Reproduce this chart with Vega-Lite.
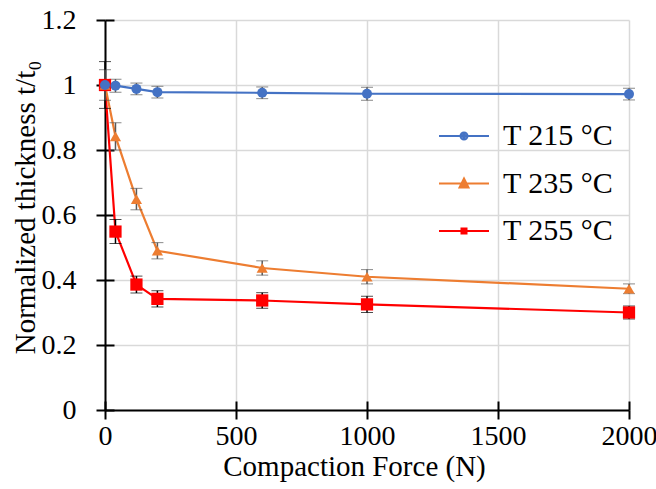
{
  "$schema": "https://vega.github.io/schema/vega-lite/v6.json",
  "width": 524,
  "height": 390,
  "autosize": "none",
  "padding": {"left": 105, "top": 20, "right": 27, "bottom": 79},
  "background": "white",
  "config": {
    "view": {"stroke": null},
    "font": "Liberation Serif",
    "axis": {
      "labelFont": "Liberation Serif",
      "labelFontSize": 28,
      "labelColor": "black",
      "labelFlush": false,
      "titleFont": "Liberation Serif",
      "titleFontSize": 29,
      "titleFontWeight": "normal",
      "titleColor": "black",
      "gridColor": "#d9d9d9",
      "gridWidth": 1.5,
      "domainColor": "black",
      "domainWidth": 2,
      "tickColor": "black",
      "tickWidth": 2,
      "tickSize": 9
    },
    "legend": {
      "labelFont": "Liberation Serif",
      "labelFontSize": 30,
      "labelColor": "black",
      "padding": 0
    }
  },
  "data": {
    "values": [
      {"force": 0, "series": "T 255 °C", "t": 1.0, "lo": 0.928, "hi": 1.072},
      {"force": 40, "series": "T 255 °C", "t": 0.549, "lo": 0.512, "hi": 0.586},
      {"force": 120, "series": "T 255 °C", "t": 0.386, "lo": 0.36, "hi": 0.412},
      {"force": 200, "series": "T 255 °C", "t": 0.342, "lo": 0.317, "hi": 0.367},
      {"force": 600, "series": "T 255 °C", "t": 0.337, "lo": 0.313, "hi": 0.361},
      {"force": 1000, "series": "T 255 °C", "t": 0.325, "lo": 0.3, "hi": 0.35},
      {"force": 2000, "series": "T 255 °C", "t": 0.3, "lo": 0.28, "hi": 0.32},
      {"force": 0, "series": "T 235 °C", "t": 1.0, "lo": 0.953, "hi": 1.047},
      {"force": 40, "series": "T 235 °C", "t": 0.842, "lo": 0.8, "hi": 0.884},
      {"force": 120, "series": "T 235 °C", "t": 0.649, "lo": 0.616, "hi": 0.682},
      {"force": 200, "series": "T 235 °C", "t": 0.49, "lo": 0.465, "hi": 0.515},
      {"force": 600, "series": "T 235 °C", "t": 0.437, "lo": 0.415, "hi": 0.459},
      {"force": 1000, "series": "T 235 °C", "t": 0.41, "lo": 0.388, "hi": 0.432},
      {"force": 2000, "series": "T 235 °C", "t": 0.373, "lo": 0.358, "hi": 0.388},
      {"force": 0, "series": "T 215 °C", "t": 1.0, "lo": 0.99, "hi": 1.01},
      {"force": 40, "series": "T 215 °C", "t": 0.998, "lo": 0.978, "hi": 1.018},
      {"force": 120, "series": "T 215 °C", "t": 0.988, "lo": 0.97, "hi": 1.006},
      {"force": 200, "series": "T 215 °C", "t": 0.978, "lo": 0.96, "hi": 0.996},
      {"force": 600, "series": "T 215 °C", "t": 0.976, "lo": 0.958, "hi": 0.994},
      {"force": 1000, "series": "T 215 °C", "t": 0.973, "lo": 0.953, "hi": 0.993},
      {"force": 2000, "series": "T 215 °C", "t": 0.972, "lo": 0.954, "hi": 0.99}
    ]
  },
  "resolve": {"axis": {"x": "independent", "y": "independent"}, "scale": {"shape": "independent", "color": "independent"}},
  "layer": [
    {
      "layer": [
        {
          "mark": {"type": "line", "strokeWidth": 2.2},
          "encoding": {
            "x": {
              "field": "force", "type": "quantitative",
              "scale": {"domain": [0, 2000], "nice": false},
              "axis": {
                "values": [0, 500, 1000, 1500, 2000],
                "format": "d",
                "title": "Compaction Force (N)",
                "labelPadding": 3,
                "titleX": 249, "titleY": 65, "titleBaseline": "alphabetic", "titleAlign": "center"
              }
            },
            "y": {
              "field": "t", "type": "quantitative",
              "scale": {"domain": [0, 1.2], "nice": false, "zero": true},
              "axis": {
                "values": [0, 0.2, 0.4, 0.6, 0.8, 1, 1.2],
                "format": "~g",
                "title": "Normalized thickness t/t₀",
                "labelPadding": 20,
                "titleX": -71, "titleY": 187, "titleBaseline": "alphabetic", "titleAlign": "center", "titleAngle": 270
              }
            },
            "color": {
              "field": "series", "type": "nominal",
              "scale": {"domain": ["T 215 °C", "T 235 °C", "T 255 °C"], "range": ["#4472C4", "#ED7D31", "#FF0000"]},
              "legend": null
            },
            "detail": {"field": "series"}
          }
        },
        {
          "mark": {"type": "errorbar", "ticks": {"size": 12, "strokeWidth": 1.5}, "rule": {"strokeWidth": 1.5}},
          "encoding": {
            "x": {
              "field": "force", "type": "quantitative",
              "axis": {"orient": "bottom", "values": [0, 500, 1000, 1500, 2000], "tickSize": -9, "labels": false, "domain": false, "grid": false, "title": null}
            },
            "y": {
              "field": "lo", "type": "quantitative",
              "axis": {"orient": "left", "values": [0, 0.2, 0.4, 0.6, 0.8, 1, 1.2], "tickSize": -9, "labels": false, "domain": false, "grid": false, "title": null}
            },
            "y2": {"field": "hi"},
            "color": {"condition": {"test": "datum.series == 'T 255 °C'", "value": "#000000"}, "value": "#595959"}
          }
        },
        {
          "mark": {"type": "point", "filled": true, "opacity": 1},
          "encoding": {
            "x": {"field": "force", "type": "quantitative", "axis": null},
            "y": {"field": "t", "type": "quantitative", "axis": null},
            "color": {"field": "series", "type": "nominal", "legend": null},
            "shape": {
              "field": "series", "type": "nominal",
              "scale": {"domain": ["T 215 °C", "T 235 °C", "T 255 °C"], "range": ["circle", "triangle-up", "square"]},
              "legend": null
            },
            "size": {
              "field": "series", "type": "nominal",
              "scale": {"domain": ["T 215 °C", "T 235 °C", "T 255 °C"], "range": [100, 150, 121]},
              "legend": null
            }
          }
        }
      ],
      "resolve": {"axis": {"x": "independent", "y": "independent"}}
    },
    {
      "mark": {"type": "point", "filled": false, "opacity": 0},
      "encoding": {
        "x": {"field": "force", "type": "quantitative", "axis": null},
        "y": {"field": "t", "type": "quantitative", "axis": null},
        "color": {
          "field": "series", "type": "nominal",
          "scale": {"domain": ["T 215 °C", "T 235 °C", "T 255 °C"], "range": ["#4472C4", "#ED7D31", "#FF0000"]},
          "legend": {"orient": "none", "legendX": 344, "legendY": 101, "title": null, "symbolSize": 100, "symbolStrokeWidth": 2, "symbolOpacity": 1, "labelOffset": 24, "rowPadding": 17.5}
        },
        "shape": {
          "field": "series", "type": "nominal",
          "scale": {
            "domain": ["T 215 °C", "T 235 °C", "T 255 °C"],
            "range": [
              "M-5,0H5M0.7,0A0.7,0.7,0,1,1,-0.7,0A0.7,0.7,0,1,1,0.7,0ZM0.3,0A0.3,0.3,0,1,1,-0.3,0A0.3,0.3,0,1,1,0.3,0Z",
              "M-5,0H5M0,-1L0.9,0.8L-0.9,0.8ZM0,-0.35L0.35,0.45L-0.35,0.45Z",
              "M-5,0H5M-0.5,-0.5H0.5V0.5H-0.5ZM-0.15,-0.15H0.15V0.15H-0.15Z"
            ]
          },
          "legend": null
        }
      }
    }
  ]
}
